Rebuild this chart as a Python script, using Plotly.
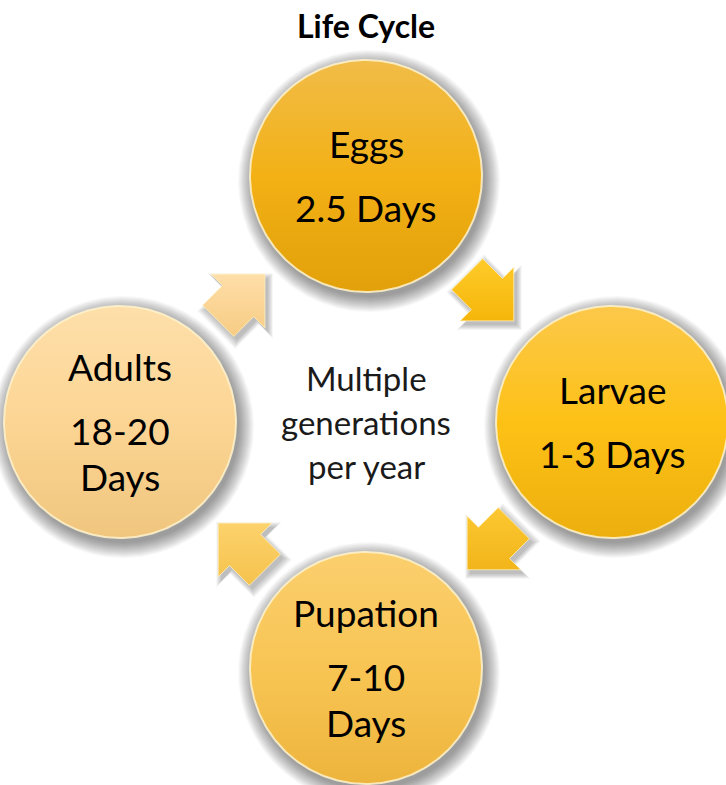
import numpy as np
import plotly.graph_objects as go

# ---- data ----
title = "Life Cycle"
stages = ["Eggs", "Larvae", "Pupation", "Adults"]
durations = ["2.5 Days", "1-3 Days", "7-10\nDays", "18-20\nDays"]
center_note = ["Multiple", "generations", "per year"]

# ---- styles / layout ----
W, H = 726, 785
CX, CY = 366, 422
RING = 246
CR = 116
ARROW_R = 176
FONT = "Lato, 'Open Sans', sans-serif"
circle_fills = [
    [(0, "#F1BC48"), (0.5, "#F3B116"), (1, "#E2A00A")],
    [(0, "#FCC84A"), (0.5, "#FDC116"), (1, "#ECAF0E")],
    [(0, "#FBCF6E"), (0.5, "#F8C554"), (1, "#EDB43C")],
    [(0, "#FEDFAA"), (0.5, "#FCD594"), (1, "#F0C67E")],
]
arrow_fills = [
    [(0, "#FFCB2A"), (1, "#F5B60A")],
    [(0, "#FCC832"), (1, "#F2B51A")],
    [(0, "#FDD26C"), (1, "#F5C24C")],
    [(0, "#FEDEA8"), (1, "#F7CC84")],
]

fig = go.Figure()
t = np.linspace(0, 2 * np.pi, 241)


def poly(xs, ys, color=None, grad=None, line=None):
    kw = dict(x=list(xs), y=list(ys), mode="lines", fill="toself",
              hoverinfo="skip", showlegend=False)
    if grad is not None:
        kw["fillgradient"] = dict(type="vertical", colorscale=grad[0],
                                  start=grad[1], stop=grad[2])
    else:
        kw["fillcolor"] = color
    if line is None:
        kw["line"] = dict(width=0, color="rgba(0,0,0,0)")
    else:
        kw["line"] = line
    fig.add_trace(go.Scatter(**kw))


# circle and arrow geometry from cycle angles
n = len(stages)
angles = [-np.pi / 2 + i * 2 * np.pi / n for i in range(n)]
centers = [(CX + RING * np.cos(a), CY + RING * np.sin(a)) for a in angles]

arrow_local = np.array([
    [-33, -22], [-5, -22], [-5, -38], [33, 0], [-5, 38], [-5, 22], [-33, 22]
], dtype=float)
arrows = []
for i in range(n):
    a = angles[i] + np.pi / n
    px, py = CX + ARROW_R * np.cos(a), CY + ARROW_R * np.sin(a)
    d = np.array([-np.sin(a), np.cos(a)])
    p = np.array([-d[1], d[0]])
    pts = np.array([[px, py]]) + arrow_local[:, :1] * d + arrow_local[:, 1:] * p
    arrows.append((px, py, pts))

# shadows
for (cx, cy) in centers:
    for k in range(16):
        r = CR + 15 - k
        poly(cx + 3 + r * np.cos(t), cy + 5 + r * np.sin(t), color="rgba(0,0,0,0.028)")
for (px, py, pts) in arrows:
    for k in range(7):
        s = 1 + (6 - k) / 28
        sp = (pts - [px, py]) * s + [px + 3, py + 4]
        poly(np.append(sp[:, 0], sp[0, 0]), np.append(sp[:, 1], sp[0, 1]),
             color="rgba(0,0,0,0.04)")

# arrows
for i, (px, py, pts) in enumerate(arrows):
    xs = np.append(pts[:, 0], pts[0, 0])
    ys = np.append(pts[:, 1], pts[0, 1])
    poly(xs, ys, grad=(arrow_fills[i], ys.min(), ys.max()),
         line=dict(width=1, color="rgba(255,240,190,0.8)"))

# circles
for i, (cx, cy) in enumerate(centers):
    poly(cx + CR * np.cos(t), cy + CR * np.sin(t),
         grad=(circle_fills[i], cy - CR, cy + CR),
         line=dict(width=2, color="rgba(255,243,205,0.85)"))

annotations = []
LINE_GAP = 64
WRAP_GAP = 46
for i, (cx, cy) in enumerate(centers):
    dlines = durations[i].split("\n")
    span = LINE_GAP + WRAP_GAP * (len(dlines) - 1)
    y0 = cy - span / 2 - 1
    annotations.append(dict(x=cx, y=y0, text=stages[i], showarrow=False,
                            font=dict(family=FONT, size=37, color="#000000"),
                            xanchor="center", yanchor="middle"))
    for j, ln in enumerate(dlines):
        annotations.append(dict(x=cx, y=y0 + LINE_GAP + WRAP_GAP * j, text=ln,
                                showarrow=False,
                                font=dict(family=FONT, size=37, color="#000000"),
                                xanchor="center", yanchor="middle"))

for j, ln in enumerate(center_note):
    annotations.append(dict(x=CX, y=CY - 44 + 44 * j, text=ln, showarrow=False,
                            font=dict(family=FONT, size=33, color="#1a1a1a"),
                            xanchor="center", yanchor="middle"))

annotations.append(dict(x=CX, y=25, text=title, showarrow=False,
                        font=dict(family=FONT, size=32, color="#000000", weight="bold"),
                        xanchor="center", yanchor="middle"))

fig.update_layout(
    width=W, height=H,
    margin=dict(l=0, r=0, t=0, b=0),
    paper_bgcolor="white", plot_bgcolor="white",
    xaxis=dict(range=[0, W], visible=False, fixedrange=True),
    yaxis=dict(range=[H, 0], visible=False, fixedrange=True),
    annotations=annotations,
    showlegend=False,
)
fig.write_html("out.html", config={"displayModeBar": False},
               post_script="document.body.style.margin='0';document.body.style.overflow='hidden';")
